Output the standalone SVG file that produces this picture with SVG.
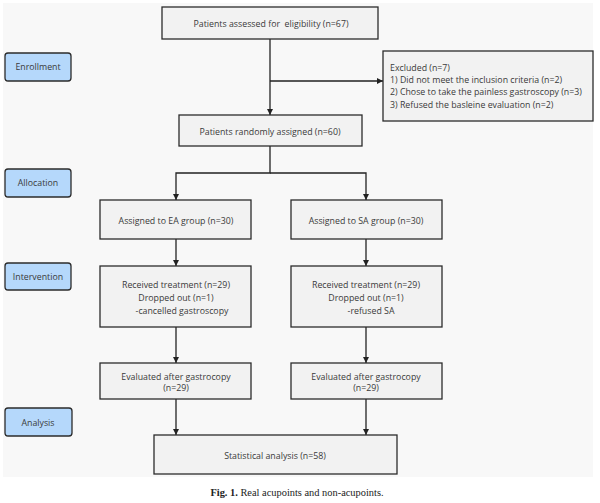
<svg xmlns="http://www.w3.org/2000/svg" width="600" height="503" viewBox="0 0 600 503">
<style>
.box{fill:#f2f2f2;stroke:#2b2b2b;stroke-width:1.3}
.lbl{fill:#b5d8fb;stroke:#2b2b2b;stroke-width:1.3}
.t{font-family:"Open Sans","Noto Sans","Liberation Sans",sans-serif;font-size:8.8px;fill:#3a3a3a;white-space:pre}
.c{text-anchor:middle}
.ln{fill:none;stroke:#222;stroke-width:1.3}
.cap{font-family:"Liberation Serif",serif;font-size:10.4px;fill:#222}
</style>
<defs>
<marker id="ah" viewBox="0 0 10 10" refX="10" refY="5" markerWidth="6" markerHeight="7" markerUnits="userSpaceOnUse" orient="auto">
<path d="M0,0 L10,5 L0,10 z" fill="#222"/>
</marker>
</defs>
<rect x="3" y="3" width="590" height="474" fill="#f8f8f8"/>
<g id="connectors">
<path class="ln" d="M270,39 V115" marker-end="url(#ah)"/>
<path class="ln" d="M270,81 H383" marker-end="url(#ah)"/>
<path class="ln" d="M270,146 V173 H176 V200" marker-end="url(#ah)"/>
<path class="ln" d="M270,173 H366 V200" marker-end="url(#ah)"/>
<path class="ln" d="M176,239 V266" marker-end="url(#ah)"/>
<path class="ln" d="M366,239 V266" marker-end="url(#ah)"/>
<path class="ln" d="M176,327 V363" marker-end="url(#ah)"/>
<path class="ln" d="M366,327 V363" marker-end="url(#ah)"/>
<path class="ln" d="M176,399 V435" marker-end="url(#ah)"/>
<path class="ln" d="M366,399 V435" marker-end="url(#ah)"/>
</g>
<g id="enrollment"><rect class="lbl" x="5" y="53" width="66" height="28" rx="3"/><text class="t c" x="38" y="70">Enrollment</text></g>
<g id="allocation"><rect class="lbl" x="5" y="169" width="66" height="28" rx="3"/><text class="t c" x="38" y="186">Allocation</text></g>
<g id="intervention"><rect class="lbl" x="5" y="263" width="66" height="27" rx="3"/><text class="t c" x="38" y="280">Intervention</text></g>
<g id="analysis"><rect class="lbl" x="5" y="408" width="67" height="28" rx="3"/><text class="t c" x="38" y="426">Analysis</text></g>
<g id="assessed"><rect class="box" x="162" y="7" width="216" height="32"/><text class="t c" x="271" y="27" xml:space="preserve">Patients assessed for  eligibility (n=67)</text></g>
<g id="excluded"><rect class="box" x="383" y="51" width="210" height="70"/>
<text class="t" x="390" y="71">Excluded (n=7)</text>
<text class="t" x="390" y="83">1) Did not meet the inclusion criteria (n=2)</text>
<text class="t" x="390" y="95">2) Chose to take the painless gastroscopy (n=3)</text>
<text class="t" x="390" y="108">3) Refused the basleine evaluation (n=2)</text></g>
<g id="randomized"><rect class="box" x="179" y="115" width="183" height="31"/><text class="t c" x="270" y="135">Patients randomly assigned (n=60)</text></g>
<g id="ea"><rect class="box" x="100" y="200" width="151" height="39"/><text class="t c" x="176" y="224">Assigned to EA group (n=30)</text></g>
<g id="sa"><rect class="box" x="291" y="200" width="151" height="39"/><text class="t c" x="366" y="224">Assigned to SA group (n=30)</text></g>
<g id="ea-treat"><rect class="box" x="100" y="266" width="151" height="61"/>
<text class="t c" x="176" y="288">Received treatment (n=29)</text>
<text class="t c" x="176" y="301">Dropped out (n=1)</text>
<text class="t c" x="182" y="314">-cancelled gastroscopy</text></g>
<g id="sa-treat"><rect class="box" x="291" y="266" width="151" height="61"/>
<text class="t c" x="366" y="288">Received treatment (n=29)</text>
<text class="t c" x="366" y="301">Dropped out (n=1)</text>
<text class="t c" x="371" y="314">-refused SA</text></g>
<g id="ea-eval"><rect class="box" x="100" y="363" width="151" height="36"/>
<text class="t c" x="176" y="380">Evaluated after gastrocopy</text>
<text class="t c" x="176" y="391">(n=29)</text></g>
<g id="sa-eval"><rect class="box" x="291" y="363" width="151" height="36"/>
<text class="t c" x="366" y="380">Evaluated after gastrocopy</text>
<text class="t c" x="366" y="391">(n=29)</text></g>
<g id="stats"><rect class="box" x="154" y="435" width="243" height="39"/><text class="t c" x="275" y="459">Statistical analysis (n=58)</text></g>
<text class="cap" x="297" y="496" text-anchor="middle"><tspan font-weight="bold">Fig. 1.</tspan> Real acupoints and non-acupoints.</text>
</svg>
